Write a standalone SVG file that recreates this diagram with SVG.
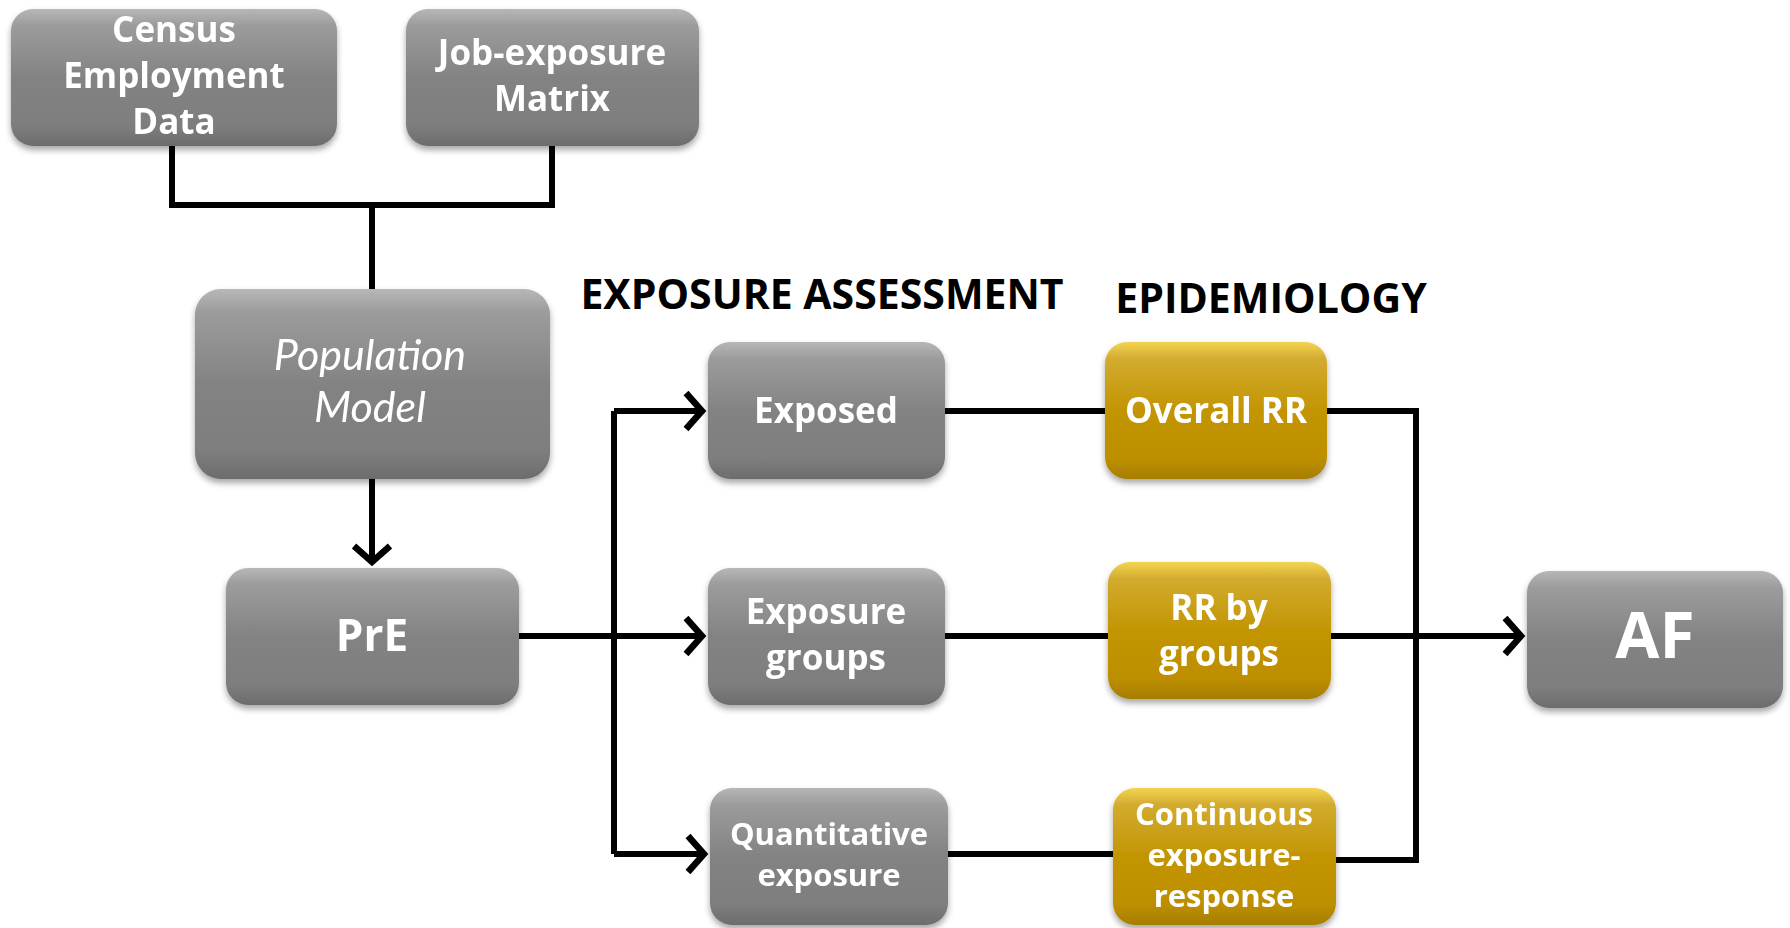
<svg xmlns="http://www.w3.org/2000/svg" width="1790" height="928" viewBox="0 0 1790 928">
<defs>
<style>
.box{stroke:none;}
.gray{fill:url(#gGray);}
.gold{fill:url(#gGold);}
.hl{fill:url(#gHl);}
.lbl{font-family:"Open Sans","Liberation Sans",sans-serif;font-weight:bold;fill:#ffffff;text-anchor:middle;}
.it{font-family:Lato,"Open Sans","Liberation Sans",sans-serif;font-style:italic;fill:#ffffff;text-anchor:middle;}
.hd{font-family:"Open Sans","Liberation Sans",sans-serif;font-weight:bold;fill:#000000;text-anchor:middle;font-size:41px;}
.ln{fill:none;stroke:#000;stroke-width:6;stroke-linejoin:miter;}
</style>
<linearGradient id="gGray" x1="0" y1="0" x2="0" y2="1">
<stop offset="0" stop-color="#a3a3a3"/>
<stop offset="0.12" stop-color="#888888"/>
<stop offset="0.85" stop-color="#7e7e7e"/>
<stop offset="1" stop-color="#6c6c6c"/>
</linearGradient>
<linearGradient id="gGold" x1="0" y1="0" x2="0" y2="1">
<stop offset="0" stop-color="#f0c820"/>
<stop offset="0.12" stop-color="#c99b06"/>
<stop offset="0.85" stop-color="#bd8f00"/>
<stop offset="1" stop-color="#a67d00"/>
</linearGradient>
<linearGradient id="gHl" x1="0" y1="0" x2="0" y2="1">
<stop offset="0" stop-color="#ffffff" stop-opacity="0.22"/>
<stop offset="0.5" stop-color="#ffffff" stop-opacity="0"/>
</linearGradient>
<filter id="sh" x="-10%" y="-10%" width="120%" height="130%">
<feDropShadow dx="0" dy="4" stdDeviation="3" flood-color="#000" flood-opacity="0.35"/>
</filter>
<marker id="arr" markerUnits="userSpaceOnUse" markerWidth="44" markerHeight="44" refX="20" refY="22" orient="auto" viewBox="0 0 44 44">
<path d="M4,4 L20,22 L4,40" fill="none" stroke="#000" stroke-width="6.5"/>
</marker>
</defs>
<rect width="1790" height="928" fill="#ffffff"/>

<g id="connectors">
<path class="ln" d="M172,146 V205 H552 V146"/>
<path class="ln" d="M372,205 V289"/>
<path class="ln" d="M372,479 V562" marker-end="url(#arr)"/>
<path class="ln" d="M519,636 H702" marker-end="url(#arr)"/>
<path class="ln" d="M614,854 V411"/>
<path class="ln" d="M614,411 H702" marker-end="url(#arr)"/>
<path class="ln" d="M614,854 H704" marker-end="url(#arr)"/>
<path class="ln" d="M945,411 H1105"/>
<path class="ln" d="M945,636 H1108"/>
<path class="ln" d="M948,854 H1113"/>
<path class="ln" d="M1327,411 H1416 V860 H1336"/>
<path class="ln" d="M1331,636 H1521" marker-end="url(#arr)"/>
</g>

<g id="headings">
<text class="hd" x="822" y="309">EXPOSURE ASSESSMENT</text>
<text class="hd" x="1271" y="313">EPIDEMIOLOGY</text>
</g>

<g id="census" filter="url(#sh)">
<rect class="box gray" x="11" y="9" width="326" height="137" rx="22"/>
<rect class="hl" x="11" y="9" width="326" height="137" rx="22"/>
<text class="lbl" font-size="35" x="174" y="42">Census</text>
<text class="lbl" font-size="35" x="174" y="88">Employment</text>
<text class="lbl" font-size="35" x="174" y="134">Data</text>
</g>

<g id="jem" filter="url(#sh)">
<rect class="box gray" x="406" y="9" width="293" height="137" rx="22"/>
<rect class="hl" x="406" y="9" width="293" height="137" rx="22"/>
<text class="lbl" font-size="35" x="552" y="65">Job-exposure</text>
<text class="lbl" font-size="35" x="552" y="111">Matrix</text>
</g>

<g id="popmodel" filter="url(#sh)">
<rect class="box gray" x="195" y="289" width="355" height="190" rx="26"/>
<rect class="hl" x="195" y="289" width="355" height="190" rx="26"/>
<text class="it" font-size="43" x="370" y="370">Population</text>
<text class="it" font-size="43" x="370" y="422">Model</text>
</g>

<g id="pre" filter="url(#sh)">
<rect class="box gray" x="226" y="568" width="293" height="137" rx="22"/>
<rect class="hl" x="226" y="568" width="293" height="137" rx="22"/>
<text class="lbl" font-size="44" x="372" y="651">PrE</text>
</g>

<g id="exposed" filter="url(#sh)">
<rect class="box gray" x="708" y="342" width="237" height="137" rx="22"/>
<rect class="hl" x="708" y="342" width="237" height="137" rx="22"/>
<text class="lbl" font-size="35" x="826" y="423">Exposed</text>
</g>

<g id="expgroups" filter="url(#sh)">
<rect class="box gray" x="708" y="568" width="237" height="137" rx="22"/>
<rect class="hl" x="708" y="568" width="237" height="137" rx="22"/>
<text class="lbl" font-size="35" x="826" y="624">Exposure</text>
<text class="lbl" font-size="35" x="826" y="670">groups</text>
</g>

<g id="quant" filter="url(#sh)">
<rect class="box gray" x="710" y="788" width="238" height="137" rx="22"/>
<rect class="hl" x="710" y="788" width="238" height="137" rx="22"/>
<text class="lbl" font-size="31" x="829" y="845">Quantitative</text>
<text class="lbl" font-size="31" x="829" y="886">exposure</text>
</g>

<g id="overallrr" filter="url(#sh)">
<rect class="box gold" x="1105" y="342" width="222" height="137" rx="22"/>
<rect class="hl" x="1105" y="342" width="222" height="137" rx="22"/>
<text class="lbl" font-size="35" x="1216" y="423">Overall RR</text>
</g>

<g id="rrgroups" filter="url(#sh)">
<rect class="box gold" x="1108" y="562" width="223" height="137" rx="22"/>
<rect class="hl" x="1108" y="562" width="223" height="137" rx="22"/>
<text class="lbl" font-size="35" x="1219" y="620">RR by</text>
<text class="lbl" font-size="35" x="1219" y="666">groups</text>
</g>

<g id="continuous" filter="url(#sh)">
<rect class="box gold" x="1113" y="788" width="223" height="137" rx="22"/>
<rect class="hl" x="1113" y="788" width="223" height="137" rx="22"/>
<text class="lbl" font-size="31" x="1224" y="825">Continuous</text>
<text class="lbl" font-size="31" x="1224" y="866">exposure-</text>
<text class="lbl" font-size="31" x="1224" y="907">response</text>
</g>

<g id="af" filter="url(#sh)">
<rect class="box gray" x="1527" y="571" width="256" height="137" rx="22"/>
<rect class="hl" x="1527" y="571" width="256" height="137" rx="22"/>
<text class="lbl" font-size="64" x="1655" y="658">AF</text>
</g>
</svg>
